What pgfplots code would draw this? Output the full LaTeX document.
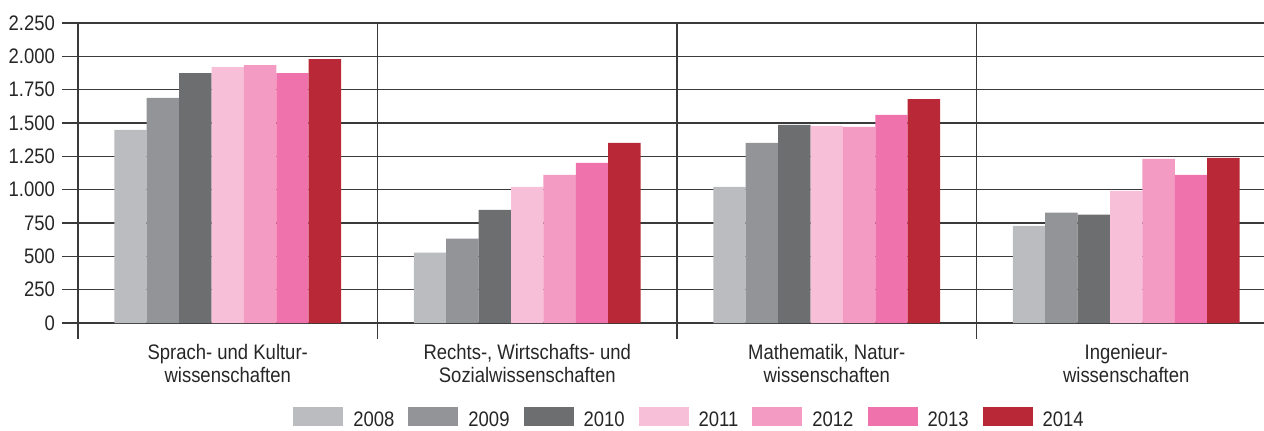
\documentclass[border=0pt]{standalone}
\usepackage{fontspec}
\setmainfont{Liberation Sans}[FakeStretch=0.88]
\usepackage{pgfplots}
\pgfplotsset{compat=1.18}
\definecolor{c08}{HTML}{BBBCC0}
\definecolor{c09}{HTML}{939498}
\definecolor{c10}{HTML}{6D6E70}
\definecolor{c11}{HTML}{F7C0D8}
\definecolor{c12}{HTML}{F39BC3}
\definecolor{c13}{HTML}{F072AC}
\definecolor{c14}{HTML}{B82837}
\definecolor{gridc}{HTML}{3A3A3A}
\begin{document}
\begin{tikzpicture}
\useasboundingbox (0,0) rectangle (632pt,215pt);
\begin{axis}[
  at={(39pt,53.5pt)}, anchor=south west,
  scale only axis, width=593pt, height=150pt,
  xmin=-0.5, xmax=3.46, ymin=0, ymax=2250,
  ybar=0pt, bar width=16.2pt,
  axis x line*=bottom, axis y line*=left,
  axis line style={-, draw=gridc, line width=0.8pt},
  ytick={0,250,...,2250},
  ymajorgrids, xmajorgrids,
  grid style={draw=gridc, line width=0.7pt},
  tick align=outside, major tick length=8pt,
  tick style={draw=gridc, line width=0.8pt},
  /pgf/number format/1000 sep={.},
  /pgf/number format/assume math mode=true,
  yticklabel style={font=\fontsize{10.5}{12}\selectfont, text=black!85},
  xtick={-0.5,0.5,1.5,2.5}, xticklabels={,,,},
  extra x ticks={0,1,2,3},
  extra x tick labels={{Sprach- und Kultur-\\wissenschaften},{Rechts-, Wirtschafts- und\\Sozialwissenschaften},{Mathematik, Natur-\\wissenschaften},{Ingenieur-\\wissenschaften}},
  extra x tick style={major tick length=0pt, grid=none},
  xticklabel style={align=center, font=\fontsize{10.5}{11.5}\selectfont, text=black!85, yshift=-7pt},
  legend columns=7,
  legend style={at={(0.519,-0.318)}, anchor=center, draw=none, fill=none,
    font=\fontsize{10.5}{12}\selectfont, text=black!85,
    nodes={inner xsep=5pt, inner ysep=0pt},
    /tikz/every even column/.append style={column sep=2pt}},
  legend image code/.code={\fill[#1] (0pt,-3pt) rectangle (25pt,6.5pt);},
]
\addplot[fill=c08, draw=none] coordinates {(0,1448) (1,527) (2,1021) (3,729)};
\addplot[fill=c09, draw=none] coordinates {(0,1688) (1,632) (2,1351) (3,827)};
\addplot[fill=c10, draw=none] coordinates {(0,1875) (1,849) (2,1486) (3,812)};
\addplot[fill=c11, draw=none] coordinates {(0,1920) (1,1021) (2,1478) (3,991)};
\addplot[fill=c12, draw=none] coordinates {(0,1935) (1,1111) (2,1471) (3,1231)};
\addplot[fill=c13, draw=none] coordinates {(0,1875) (1,1201) (2,1561) (3,1111)};
\addplot[fill=c14, draw=none] coordinates {(0,1980) (1,1351) (2,1680) (3,1239)};
\legend{2008,2009,2010,2011,2012,2013,2014}
\end{axis}
\end{tikzpicture}
\end{document}
